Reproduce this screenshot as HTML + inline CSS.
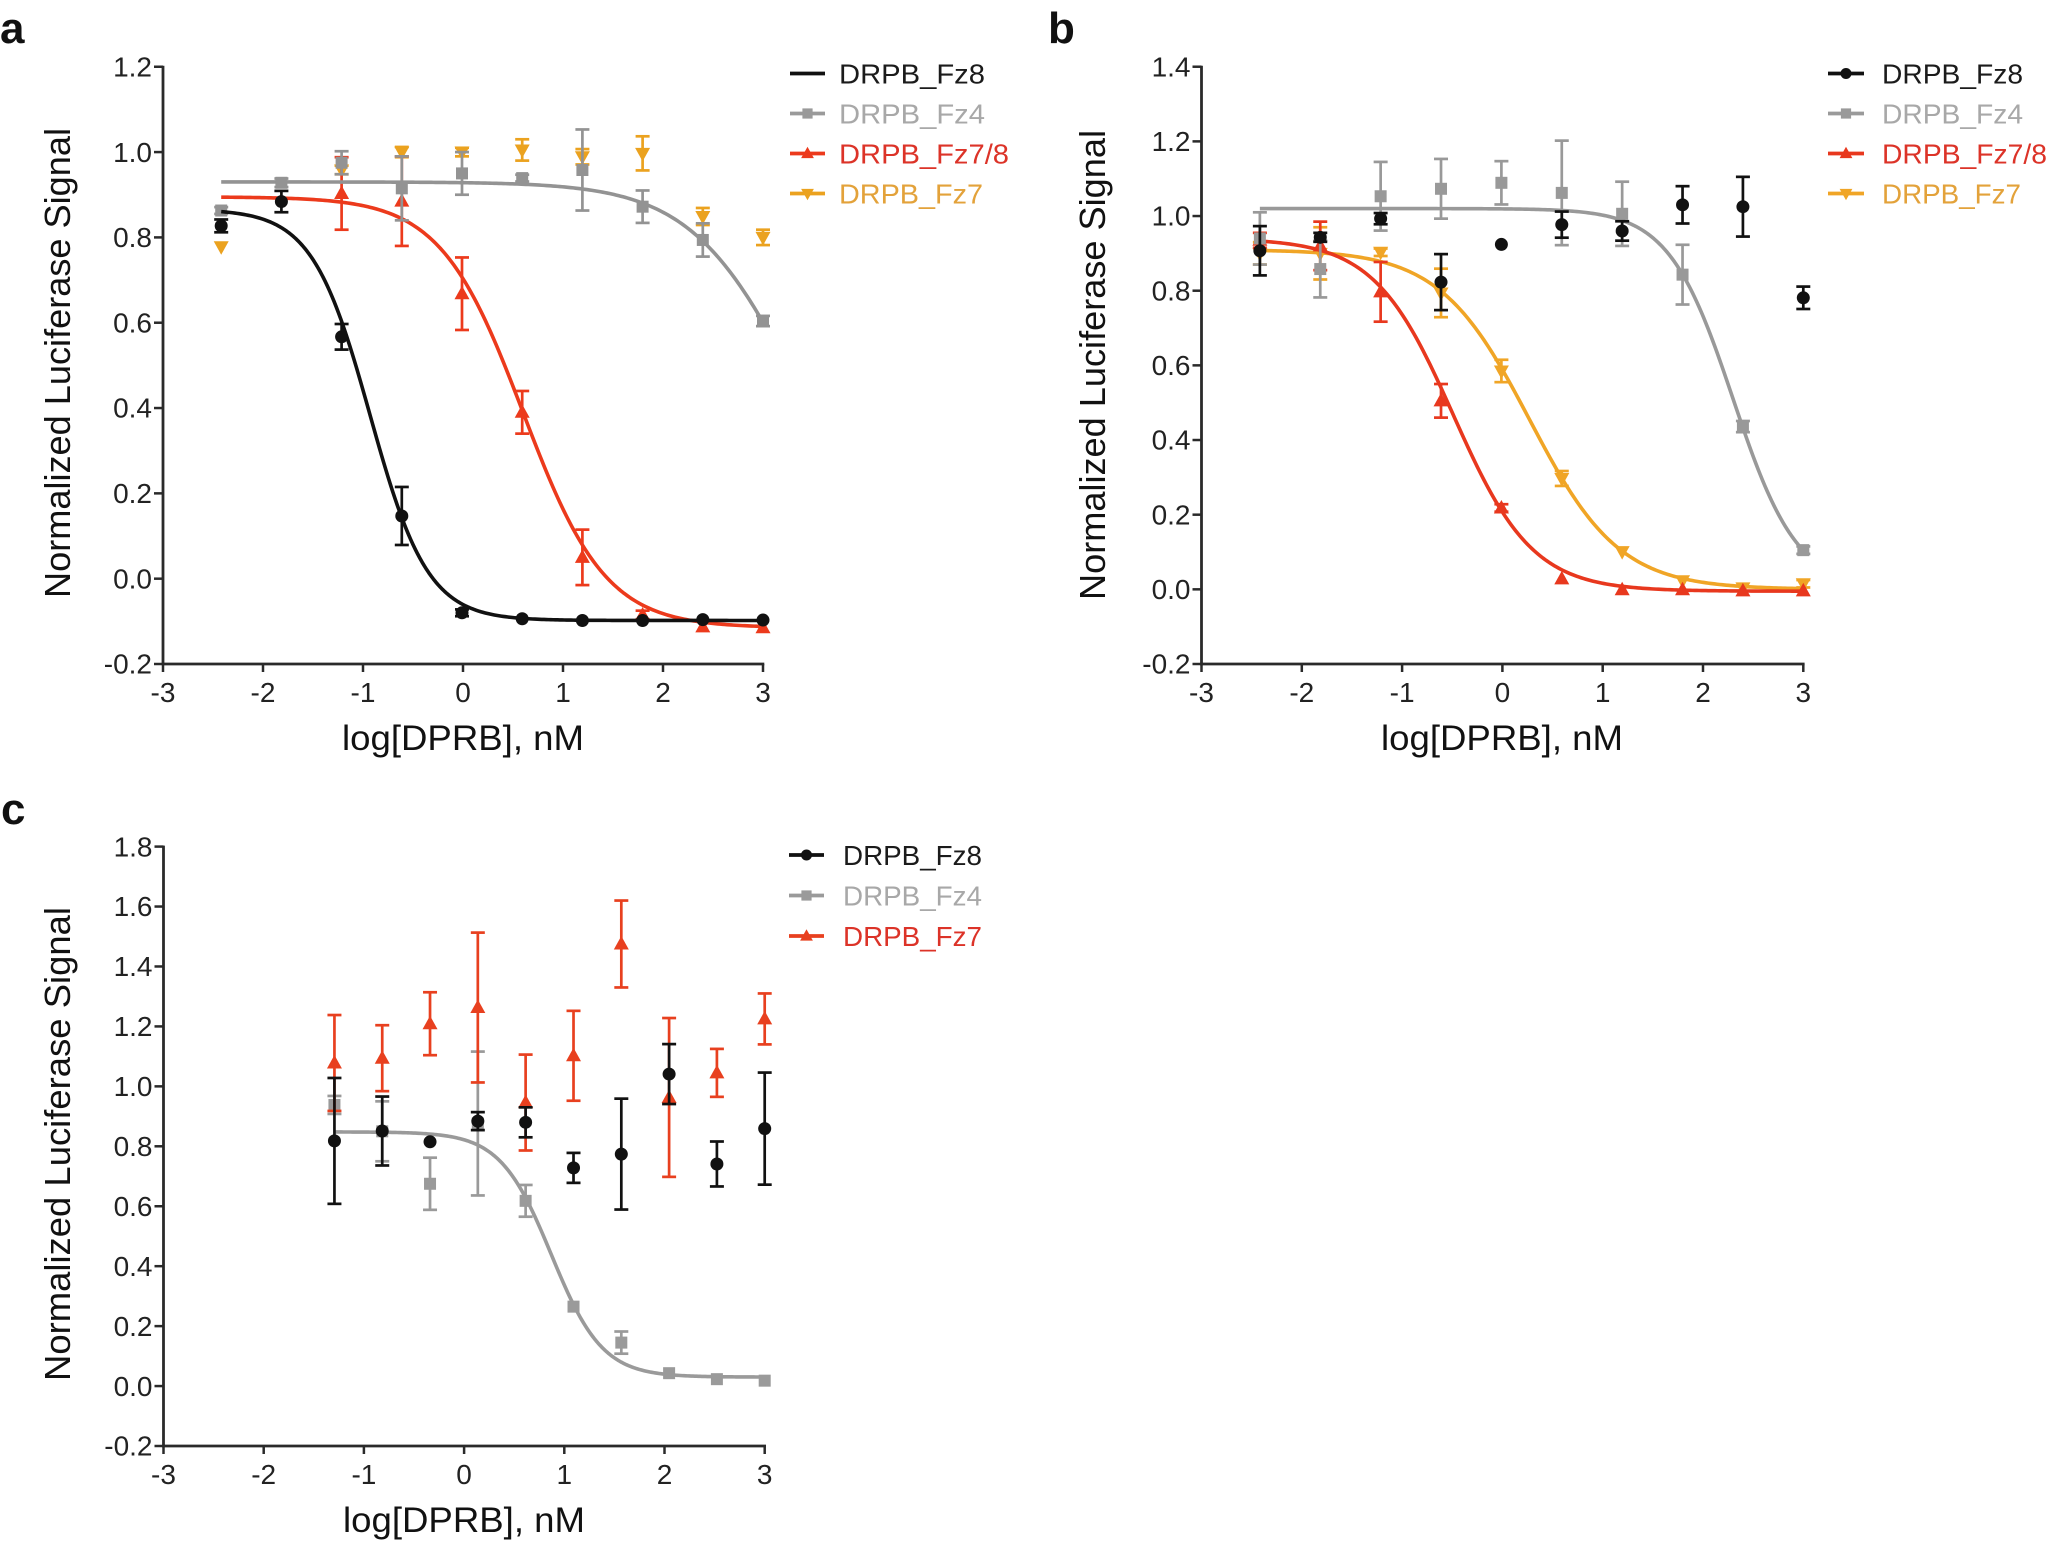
<!DOCTYPE html>
<html>
<head>
<meta charset="utf-8">
<style>
html,body{margin:0;padding:0;background:#fff;}
svg{display:block;}
text{font-family:"Liberation Sans",Arial,sans-serif;}
.tk{font-size:28px;fill:#222;}
.yl{font-size:36px;fill:#111;}
.xl{font-size:35px;fill:#111;}
.lg{font-size:28px;}
.pl{font-size:44px;font-weight:bold;fill:#111;}
</style>
</head>
<body>
<svg id="s" width="2055" height="1549" viewBox="0 0 2055 1549">
<rect x="0" y="0" width="2055" height="1549" fill="#fff"/>
<g id="g"></g>

<!-- panel labels -->
<text class="pl" x="0" y="43">a</text>
<text class="pl" x="1048" y="43">b</text>
<text class="pl" x="1" y="824">c</text>

<!-- Panel a y tick labels -->
<g class="tk" text-anchor="end">
<text x="152" y="76.5">1.2</text>
<text x="152" y="161.8">1.0</text>
<text x="152" y="247.1">0.8</text>
<text x="152" y="332.4">0.6</text>
<text x="152" y="417.7">0.4</text>
<text x="152" y="503">0.2</text>
<text x="152" y="588.4">0.0</text>
<text x="152" y="673.7">-0.2</text>
</g>
<g class="tk" text-anchor="middle">
<text x="163" y="702">-3</text>
<text x="263" y="702">-2</text>
<text x="363" y="702">-1</text>
<text x="463" y="702">0</text>
<text x="563" y="702">1</text>
<text x="663" y="702">2</text>
<text x="763" y="702">3</text>
</g>
<text class="yl" text-anchor="middle" transform="translate(70,363) rotate(-90)" textLength="470" lengthAdjust="spacingAndGlyphs">Normalized Luciferase Signal</text>
<text class="xl" x="463" y="750" text-anchor="middle" textLength="242" lengthAdjust="spacingAndGlyphs">log[DPRB], nM</text>

<!-- Panel b -->
<g class="tk" text-anchor="end">
<text x="1190.5" y="76.4">1.4</text>
<text x="1190.5" y="151.1">1.2</text>
<text x="1190.5" y="225.7">1.0</text>
<text x="1190.5" y="300.4">0.8</text>
<text x="1190.5" y="375.1">0.6</text>
<text x="1190.5" y="449.7">0.4</text>
<text x="1190.5" y="524.4">0.2</text>
<text x="1190.5" y="599">0.0</text>
<text x="1190.5" y="673.7">-0.2</text>
</g>
<g class="tk" text-anchor="middle">
<text x="1201.5" y="702">-3</text>
<text x="1301.8" y="702">-2</text>
<text x="1402.1" y="702">-1</text>
<text x="1502.4" y="702">0</text>
<text x="1602.7" y="702">1</text>
<text x="1703" y="702">2</text>
<text x="1803.3" y="702">3</text>
</g>
<text class="yl" text-anchor="middle" transform="translate(1105,365) rotate(-90)" textLength="470" lengthAdjust="spacingAndGlyphs">Normalized Luciferase Signal</text>
<text class="xl" x="1502" y="750" text-anchor="middle" textLength="242" lengthAdjust="spacingAndGlyphs">log[DPRB], nM</text>

<!-- Panel c -->
<g class="tk" text-anchor="end">
<text x="152.5" y="856.3">1.8</text>
<text x="152.5" y="916.2">1.6</text>
<text x="152.5" y="976.2">1.4</text>
<text x="152.5" y="1036.1">1.2</text>
<text x="152.5" y="1096.1">1.0</text>
<text x="152.5" y="1156">0.8</text>
<text x="152.5" y="1215.9">0.6</text>
<text x="152.5" y="1275.9">0.4</text>
<text x="152.5" y="1335.8">0.2</text>
<text x="152.5" y="1395.8">0.0</text>
<text x="152.5" y="1455.7">-0.2</text>
</g>
<g class="tk" text-anchor="middle">
<text x="163.5" y="1484">-3</text>
<text x="263.7" y="1484">-2</text>
<text x="363.9" y="1484">-1</text>
<text x="464.1" y="1484">0</text>
<text x="564.3" y="1484">1</text>
<text x="664.5" y="1484">2</text>
<text x="764.7" y="1484">3</text>
</g>
<text class="yl" text-anchor="middle" transform="translate(70,1144) rotate(-90)" textLength="474" lengthAdjust="spacingAndGlyphs">Normalized Luciferase Signal</text>
<text class="xl" x="464" y="1532" text-anchor="middle" textLength="242" lengthAdjust="spacingAndGlyphs">log[DPRB], nM</text>

<!-- Legends -->
<g class="lg">
<text x="839" y="83.5" fill="#1b1b1b" textLength="146" lengthAdjust="spacingAndGlyphs">DRPB_Fz8</text>
<text x="839" y="123.5" fill="#a8a8a8" textLength="146" lengthAdjust="spacingAndGlyphs">DRPB_Fz4</text>
<text x="839" y="163.5" fill="#dc3328" textLength="170" lengthAdjust="spacingAndGlyphs">DRPB_Fz7/8</text>
<text x="839" y="203.5" fill="#e3a23a" textLength="144" lengthAdjust="spacingAndGlyphs">DRPB_Fz7</text>

<text x="1882" y="83.5" fill="#1b1b1b" textLength="141" lengthAdjust="spacingAndGlyphs">DRPB_Fz8</text>
<text x="1882" y="123.5" fill="#a8a8a8" textLength="141" lengthAdjust="spacingAndGlyphs">DRPB_Fz4</text>
<text x="1882" y="163.5" fill="#dc3328" textLength="165" lengthAdjust="spacingAndGlyphs">DRPB_Fz7/8</text>
<text x="1882" y="203.5" fill="#e3a23a" textLength="139" lengthAdjust="spacingAndGlyphs">DRPB_Fz7</text>

<text x="843" y="865" fill="#1b1b1b" textLength="139" lengthAdjust="spacingAndGlyphs">DRPB_Fz8</text>
<text x="843" y="905.5" fill="#a8a8a8" textLength="139" lengthAdjust="spacingAndGlyphs">DRPB_Fz4</text>
<text x="843" y="946" fill="#dc3328" textLength="139" lengthAdjust="spacingAndGlyphs">DRPB_Fz7</text>
</g>
</svg>

<script>
(function(){
var S=document.getElementById('s');
var NS=S.namespaceURI;
var G=document.getElementById('g');
function el(t,a,parent){var e=document.createElementNS(NS,t);for(var k in a)e.setAttribute(k,a[k]);(parent||G).appendChild(e);return e;}

var PA={x0:163,xs:100,yb:664,ys:426.6,top:1.2};
var PB={x0:1201.5,xs:100.3,yb:664,ys:373.3,top:1.4};
var PC={x0:163.5,xs:100.2,yb:1446,ys:299.7,top:1.8};
function X(p,v){return p.x0+(v+3)*p.xs;}
function Y(p,v){return p.yb-(v+0.2)*p.ys;}

function axes(p){
  var ac='#2a2a2a';
  el('line',{x1:p.x0,y1:Y(p,p.top)-1,x2:p.x0,y2:p.yb+1.3,stroke:ac,'stroke-width':2.8});
  el('line',{x1:p.x0-1.3,y1:p.yb,x2:X(p,3)+1.3,y2:p.yb,stroke:ac,'stroke-width':2.8});
  for(var v=-0.2;v<=p.top+1e-6;v+=0.2){
    var y=Y(p,v);
    el('line',{x1:p.x0-9,y1:y,x2:p.x0,y2:y,stroke:ac,'stroke-width':2.5});
  }
  for(var k=-3;k<=3;k++){
    var x=X(p,k);
    el('line',{x1:x,y1:p.yb,x2:x,y2:p.yb+8,stroke:ac,'stroke-width':2.5});
  }
}
axes(PA);axes(PB);axes(PC);

function curve(p,top,bot,c,h,x1,x2,col){
  var pts=[];
  for(var i=0;i<=240;i++){
    var x=x1+(x2-x1)*i/240;
    var y=bot+(top-bot)/(1+Math.pow(10,(x-c)*h));
    pts.push(X(p,x).toFixed(2)+','+Y(p,y).toFixed(2));
  }
  el('polyline',{points:pts.join(' '),fill:'none',stroke:col,'stroke-width':3.6,'stroke-linejoin':'round'});
}
function marker(type,x,y,col,sz){
  sz=sz||1;
  if(type==='c'){el('circle',{cx:x,cy:y,r:6.5*sz,fill:col});}
  else if(type==='s'){var s=12*sz;el('rect',{x:x-s/2,y:y-s/2,width:s,height:s,fill:col});}
  else if(type==='u'){el('polygon',{points:x+','+(y-8*sz)+' '+(x-7.5*sz)+','+(y+5.5*sz)+' '+(x+7.5*sz)+','+(y+5.5*sz),fill:col});}
  else if(type==='d'){el('polygon',{points:x+','+(y+8*sz)+' '+(x-7.5*sz)+','+(y-5.5*sz)+' '+(x+7.5*sz)+','+(y-5.5*sz),fill:col});}
}
function series(p,xs,vals,errs,type,col){
  for(var i=0;i<xs.length;i++){
    if(vals[i]===null)continue;
    var x=X(p,xs[i]),v=vals[i],e=errs[i];
    if(e*p.ys>3){
      var y1=Y(p,v+e),y2=Y(p,v-e);
      el('line',{x1:x,y1:y1,x2:x,y2:y2,stroke:col,'stroke-width':2.7});
      el('line',{x1:x-7,y1:y1,x2:x+7,y2:y1,stroke:col,'stroke-width':2.7});
      el('line',{x1:x-7,y1:y2,x2:x+7,y2:y2,stroke:col,'stroke-width':2.7});
    }
    marker(type,x,Y(p,v),col);
  }
}

var xa=[-2.418,-1.816,-1.214,-0.612,-0.01,0.592,1.194,1.796,2.398,3];
var xc=[-1.294,-0.817,-0.34,0.137,0.614,1.092,1.569,2.046,2.523,3];

/* Panel a */
var BK='#111',GRa='#939393',RDa='#ec3a1c',ORa='#eba21f';
series(PA,xa,[0.778,null,0.958,1.0,1.0,1.005,0.989,0.997,0.849,0.80],[0,0,0.01,0.012,0.01,0.025,0.018,0.04,0.02,0.018],'d',ORa);
curve(PA,0.895,-0.115,0.6,1.05,-2.418,3,RDa);
series(PA,xa,[null,null,0.903,0.885,0.668,0.39,0.05,-0.085,-0.113,-0.115],[0,0,0.085,0.105,0.085,0.05,0.065,0.01,0.005,0.005],'u',RDa);
curve(PA,0.93,0,3.32,0.82,-2.418,3,GRa);
series(PA,xa,[0.863,0.928,0.975,0.915,0.95,0.939,0.958,0.872,0.794,0.604],[0.008,0.01,0.027,0.075,0.05,0.008,0.095,0.038,0.039,0.012],'s',GRa);
curve(PA,0.866,-0.098,-0.93,1.5,-2.418,3,BK);
series(PA,xa,[0.827,0.884,0.567,0.147,-0.08,-0.094,-0.098,-0.098,-0.096,-0.097],[0.015,0.025,0.03,0.068,0.008,0.005,0.005,0.005,0.005,0.005],'c',BK);

/* Panel b */
var GRb='#999999',RDb='#e8381e',ORb='#f0a526';
curve(PB,0.91,0,0.27,0.97,-2.418,3,ORb);
series(PB,xa,[0.9,0.9,0.903,0.794,0.585,0.297,0.101,0.023,0.004,0.015],[0.03,0.07,0.01,0.065,0.03,0.02,0.008,0.005,0.005,0.01],'d',ORb);
curve(PB,0.94,-0.005,-0.49,1.1,-2.418,3,RDb);
series(PB,xa,[0.935,0.92,0.797,0.505,0.218,0.028,-0.001,-0.001,-0.004,-0.004],[0.02,0.065,0.08,0.045,0.01,0.005,0.005,0.005,0.005,0.005],'u',RDb);
curve(PB,1.02,0,2.3,1.35,-2.418,3,GRb);
series(PB,xa,[0.94,0.858,1.053,1.073,1.089,1.062,1.006,0.843,0.436,0.105],[0.07,0.076,0.092,0.08,0.058,0.14,0.086,0.08,0.015,0.01],'s',GRb);
series(PB,xa,[0.907,0.943,0.993,0.823,0.924,0.977,0.96,1.03,1.025,0.781],[0.066,0.012,0.015,0.075,0.004,0.035,0.026,0.05,0.08,0.03],'c',BK);

/* Panel c */
var GRc='#9a9a9a',RDc='#e8401f';
curve(PC,0.848,0.03,0.87,1.7,-1.294,3,GRc);
series(PC,xc,[0.938,0.85,0.675,0.876,0.618,0.265,0.145,0.043,0.023,0.018],[0.03,0.1,0.087,0.24,0.053,0.01,0.037,0.008,0.006,0.006],'s',GRc);
series(PC,xc,[1.078,1.094,1.209,1.263,0.946,1.102,1.475,0.963,1.045,1.225],[0.16,0.11,0.105,0.25,0.16,0.15,0.145,0.265,0.08,0.085],'u',RDc);
series(PC,xc,[0.818,0.851,0.815,0.884,0.88,0.728,0.774,1.041,0.741,0.859],[0.21,0.115,0.008,0.03,0.05,0.05,0.185,0.1,0.075,0.187],'c',BK);

/* Legend glyphs */
function lg(x1,x2,y,col,type){
  el('line',{x1:x1,y1:y,x2:x2,y2:y,stroke:col,'stroke-width':3.8});
  if(type)marker(type,(x1+x2)/2,y,col,0.85);
}
lg(790,825,73.5,BK,null);
lg(790,825,113.5,'#9a9a9a','s');
lg(790,825,153.5,RDa,'u');
lg(790,825,193.5,ORa,'d');

lg(1828,1864,73.5,BK,'c');
lg(1828,1864,113.5,'#9a9a9a','s');
lg(1828,1864,153.5,RDb,'u');
lg(1828,1864,193.5,ORb,'d');

lg(789,824,855,BK,'c');
lg(789,824,895.5,'#9a9a9a','s');
lg(789,824,936,RDc,'u');
})();
</script>
</body>
</html>
